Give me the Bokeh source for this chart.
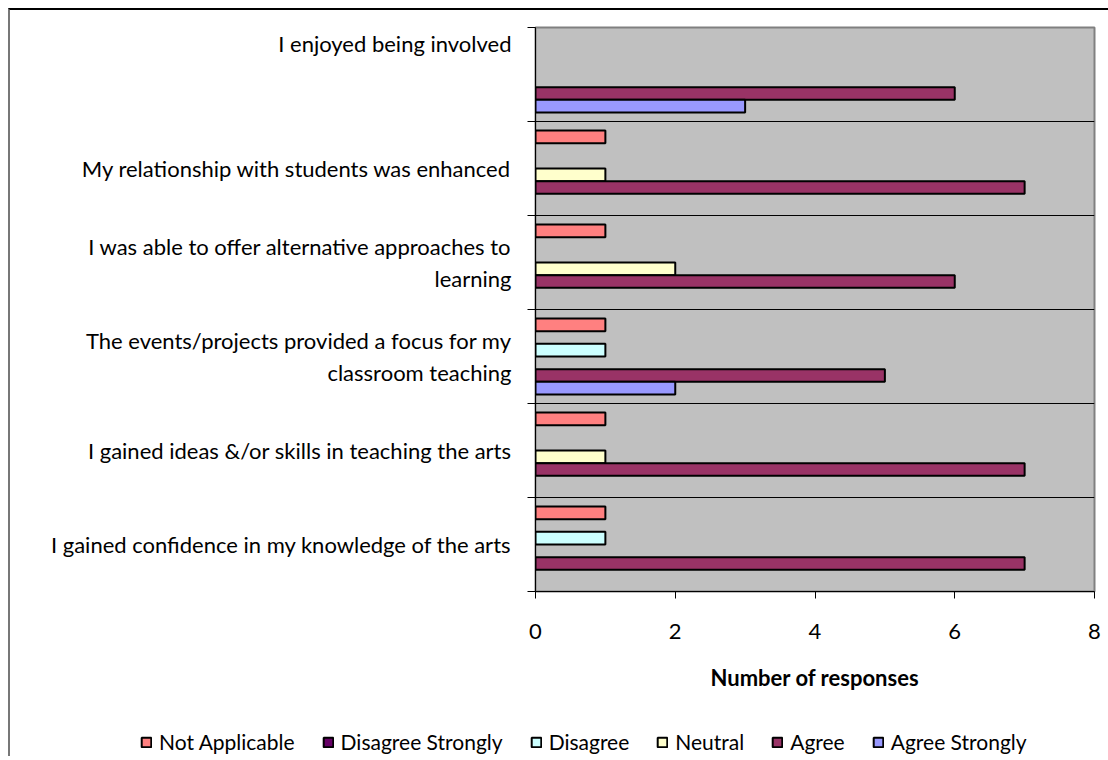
from bokeh.plotting import figure
from bokeh.models import (Range1d, LinearAxis, FixedTicker, Grid, Legend, LegendItem,
                          ColumnDataSource)
from bokeh.embed import file_html
from bokeh.resources import INLINE

# Survey statements (top to bottom as displayed)
statements = [
    "I enjoyed being involved\n\n",
    "My relationship with students was enhanced",
    "I was able to offer alternative approaches to\nlearning",
    "The events/projects provided a focus for my\nclassroom teaching",
    "I gained ideas &/or skills in teaching the arts",
    "I gained confidence in my knowledge of the arts",
]

responses = ["Not Applicable", "Disagree Strongly", "Disagree", "Neutral", "Agree", "Agree Strongly"]

# Number of responses per statement, one list per answer option
not_applicable = [0, 1, 1, 1, 1, 1]
disagree_strongly = [0, 0, 0, 0, 0, 0]
disagree = [0, 0, 0, 1, 0, 1]
neutral = [0, 1, 2, 0, 1, 0]
agree = [6, 7, 6, 5, 7, 7]
agree_strongly = [3, 0, 0, 2, 0, 0]

series = [not_applicable, disagree_strongly, disagree, neutral, agree, agree_strongly]
colors = ["#FF8080", "#660066", "#CCFFFF", "#FFFFCC", "#993366", "#9999FF"]

x_ticks = [0, 2, 4, 6, 8]

FONT = "Lato"

n = len(statements)
# each statement occupies a unit band; first statement at the top
centers = [n - 1 - k + 0.5 for k in range(n)]
band_edges = list(range(n + 1))
slot = 0.1347

p = figure(
    width=1100, height=683,
    y_range=Range1d(0, n), x_range=Range1d(0, 8),
    x_axis_location=None, y_axis_location=None,
    output_backend="svg", toolbar_location=None,
    min_border_left=525, min_border_top=17, min_border_right=16, min_border_bottom=100,
    background_fill_color="#C0C0C0",
    outline_line_color="#808080", outline_line_width=2,
)
p.styles = {"margin-left": "8px", "margin-top": "8px",
            "border-top": "2px solid #000000", "border-left": "2px solid #777777"}
p.xgrid.visible = False
p.ygrid.visible = False

# statement labels at band centres, small tick marks at band boundaries
y_axis = LinearAxis(ticker=FixedTicker(ticks=centers, minor_ticks=band_edges),
                    major_label_overrides={c: s for c, s in zip(centers, statements)},
                    major_tick_line_color=None, major_tick_out=8, major_tick_in=0,
                    minor_tick_line_color="#000000", minor_tick_out=8, minor_tick_in=0,
                    axis_line_color="#000000", axis_line_width=1,
                    major_label_standoff=16,
                    major_label_text_font=FONT, major_label_text_font_size="22px",
                    major_label_text_line_height=1.15,
                    major_label_text_color="#000000")
p.add_layout(y_axis, "left")

x_axis = LinearAxis(ticker=FixedTicker(ticks=x_ticks), major_tick_out=7, major_tick_in=0,
                    minor_tick_line_color=None, axis_line_color="#000000",
                    major_tick_line_color="#000000",
                    major_label_text_font=FONT, major_label_text_font_size="22px",
                    major_label_text_color="#000000", major_label_standoff=25,
                    axis_label="Number of responses", axis_label_text_font=FONT,
                    axis_label_text_font_size="22px", axis_label_text_font_style="bold",
                    axis_label_text_color="#000000", axis_label_standoff=22)
p.add_layout(x_axis, "below")

p.add_layout(Grid(dimension=1, ticker=FixedTicker(ticks=band_edges[1:-1]),
                  grid_line_color="#000000", grid_line_width=1))

sources = []
for i, (vals, col) in enumerate(zip(series, colors)):
    offset = (2.5 - i) * slot
    src = ColumnDataSource(dict(y=[c + offset for c in centers], value=vals))
    sources.append(src)
    # only non-zero counts get a bar
    shown = ColumnDataSource(dict(
        y=[y for y, v in zip(src.data["y"], vals) if v > 0],
        value=[v for v in vals if v > 0]))
    p.hbar(y="y", left=0, right="value", height=slot, source=shown,
           fill_color=col, line_color="#000000", line_width=2)

# legend strip underneath the chart, as its own root so it is not frame-aligned
lf = figure(width=1100, height=65, output_backend="svg", toolbar_location=None,
            x_axis_location=None, y_axis_location=None,
            min_border_left=0, min_border_right=0, min_border_top=0, min_border_bottom=0,
            outline_line_color=None, x_range=Range1d(0, 8), y_range=Range1d(0, n))
lf.styles = {"margin-left": "8px", "border-left": "2px solid #777777"}
lf.xgrid.visible = False
lf.ygrid.visible = False
items = []
for name, col, src in zip(responses, colors, sources):
    r = lf.hbar(y="y", left=0, right="value", height=slot, source=src,
                fill_color=col, line_color="#000000", line_width=2, visible=False)
    items.append(LegendItem(label=name, renderers=[r]))

legend = Legend(items=items, orientation="horizontal", location=(130, 2),
                padding=0, margin=0, spacing=27, label_standoff=7,
                glyph_width=12, glyph_height=12, label_height=22,
                label_text_font=FONT, label_text_font_size="21px",
                label_text_color="#000000",
                border_line_color=None, background_fill_alpha=0)
lf.add_layout(legend)

open("out.html", "w").write(file_html([p, lf], INLINE))
